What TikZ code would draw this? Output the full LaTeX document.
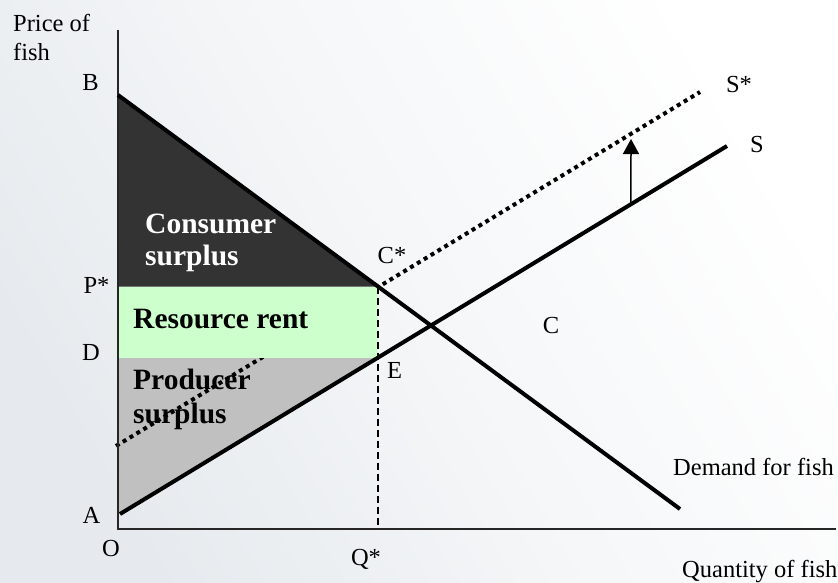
\documentclass[tikz,border=0pt]{standalone}
\usepackage{fontspec}
\setmainfont{Liberation Serif}
\usetikzlibrary{arrows.meta,calc}
\definecolor{bgl}{HTML}{E6EAEE}
\definecolor{csdark}{HTML}{333333}
\definecolor{rentgreen}{HTML}{CCFFCC}
\definecolor{psgray}{HTML}{C0C0C0}
\begin{document}
\begin{tikzpicture}[x=1pt,y=-1pt,
  lbl/.style={font=\fontsize{24.5}{28}\selectfont, inner sep=0pt, anchor=base},
  blbl/.style={font=\fontsize{29.5}{33}\selectfont\bfseries, inner sep=0pt, anchor=base west},
  curveline/.style={line width=4pt},
  axisline/.style={line width=2pt, draw=black!85},
  dotline/.style={line width=4pt, dash pattern=on 4pt off 4pt},
  guide/.style={line width=1.3pt, dash pattern=on 7pt off 4pt},
  shiftarrow/.style={line width=1.5pt, -{Triangle[length=15pt,width=16pt]}}]
% background
\useasboundingbox (0,0) rectangle (838,582);
\fill[top color=white, bottom color=bgl, middle color=white!60!bgl, shading angle=-60] (0,0) rectangle (838,582);
% coordinates
\coordinate (O) at (118,529);
\coordinate (Ytop) at (118,30);
\coordinate (Xend) at (836,529);
\coordinate (B) at (118,95);
\coordinate (Dend) at (680,509);
\coordinate (A) at (120,514);
\coordinate (Aaxis) at (118,514);
\coordinate (Send) at (727,146);
\coordinate (SSstart) at (116,446);
\coordinate (SSend) at (700,92);
\coordinate (Cstar) at (378,286.5);
\coordinate (Pst) at (118,286.5);
\coordinate (E) at ($(A)!0.425!(Send)$);
\coordinate (Dpt) at (118,357.6);
\coordinate (Q) at (378,529);
\coordinate (arrS) at ($(A)!0.8418!(Send)$);
\coordinate (arrT) at (631,139);
% areas
\fill[csdark] (B) -- (Cstar) -- (Pst) -- cycle;
\fill[psgray] (Dpt) -- (E) -- (A) -- (Aaxis) -- cycle;
\node[blbl] (prod1) at (133,389) {Producer};
\node[blbl] (prod2) at (133,423) {surplus};
\draw[dotline] (SSstart) -- (SSend);
\fill[rentgreen] (Pst) rectangle (E);
\node[blbl] (rent) at (133,328) {Resource rent};
\node[blbl, text=white] (cons1) at (145,233) {Consumer};
\node[blbl, text=white] (cons2) at (145,265) {surplus};
% guide
\draw[guide] (Cstar) -- (Q);
% axes
\draw[axisline] (Ytop) -- (O) -- (Xend);
% curves
\draw[curveline] (B) -- (Dend);
\draw[curveline] (A) -- (Send);
\draw[shiftarrow] (arrS) -- (arrT);
% labels
\node[lbl, anchor=base west] (pricelbl) at (13,31) {Price of};
\node[lbl, anchor=base west] (fishlbl) at (13,60) {fish};
\node[lbl] (Blbl) at (90.5,90) {B};
\node[lbl] (Plbl) at (96.5,293) {P*};
\node[lbl] (Dlbl) at (91,360) {D};
\node[lbl] (Albl) at (91.5,523) {A};
\node[lbl] (Olbl) at (111,556) {O};
\node[lbl] (Qlbl) at (366,565) {Q*};
\node[lbl] (Cslbl) at (392,263) {C*};
\node[lbl] (Elbl) at (394.5,378) {E};
\node[lbl] (Clbl) at (551,333) {C};
\node[lbl] (SSlbl) at (739,92) {S*};
\node[lbl] (Slbl) at (757,152) {S};
\node[lbl, anchor=base west] (demlbl) at (673,475) {Demand for fish};
\node[lbl, anchor=base west] (qtylbl) at (682,577) {Quantity of fish};
\end{tikzpicture}
\end{document}
